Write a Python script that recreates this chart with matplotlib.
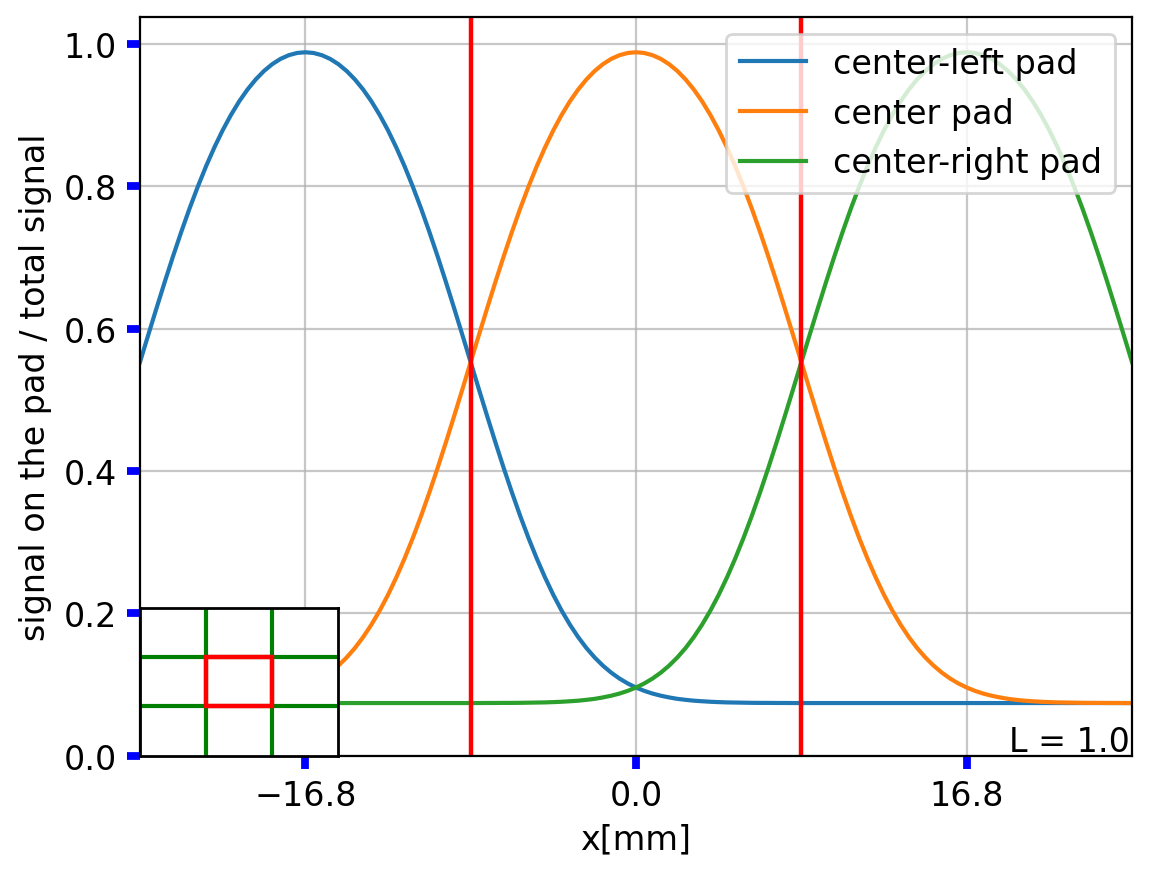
import matplotlib.pyplot as plt
from matplotlib.patches import Rectangle

plt.rcParams['font.size'] = 12

# positions along the strip [mm]
x_mm = [-25.2, -24.78, -24.36, -23.94, -23.52, -23.1, -22.68, -22.26, -21.84, -21.42,
        -21.0, -20.58, -20.16, -19.74, -19.32, -18.9, -18.48, -18.06, -17.64, -17.22,
        -16.8, -16.38, -15.96, -15.54, -15.12, -14.7, -14.28, -13.86, -13.44, -13.02,
        -12.6, -12.18, -11.76, -11.34, -10.92, -10.5, -10.08, -9.66, -9.24, -8.82,
        -8.4, -7.98, -7.56, -7.14, -6.72, -6.3, -5.88, -5.46, -5.04, -4.62,
        -4.2, -3.78, -3.36, -2.94, -2.52, -2.1, -1.68, -1.26, -0.84, -0.42,
        0.0,
        0.42, 0.84, 1.26, 1.68, 2.1, 2.52, 2.94, 3.36, 3.78, 4.2,
        4.62, 5.04, 5.46, 5.88, 6.3, 6.72, 7.14, 7.56, 7.98, 8.4,
        8.82, 9.24, 9.66, 10.08, 10.5, 10.92, 11.34, 11.76, 12.18, 12.6,
        13.02, 13.44, 13.86, 14.28, 14.7, 15.12, 15.54, 15.96, 16.38, 16.8,
        17.22, 17.64, 18.06, 18.48, 18.9, 19.32, 19.74, 20.16, 20.58, 21.0,
        21.42, 21.84, 22.26, 22.68, 23.1, 23.52, 23.94, 24.36, 24.78, 25.2]

center_left = [0.5528, 0.5909, 0.6286, 0.6656, 0.7015, 0.7359, 0.7687, 0.7994, 0.8281, 0.8544,
               0.8784, 0.8999, 0.9190, 0.9356, 0.9498, 0.9617, 0.9713, 0.9787, 0.9839, 0.9870,
               0.9880,
               0.9870, 0.9839, 0.9787, 0.9713, 0.9617, 0.9498, 0.9356, 0.9190, 0.8999, 0.8784,
               0.8544, 0.8281, 0.7994, 0.7687, 0.7359, 0.7015, 0.6656, 0.6286, 0.5909, 0.5528,
               0.5146, 0.4769, 0.4399, 0.4040, 0.3695, 0.3366, 0.3057, 0.2769, 0.2503, 0.2259,
               0.2039, 0.1842, 0.1667, 0.1513, 0.1380, 0.1265, 0.1167, 0.1084, 0.1015, 0.0958,
               0.0911, 0.0873, 0.0843, 0.0819, 0.0799, 0.0785, 0.0773, 0.0765, 0.0758, 0.0753,
               0.0749, 0.0747, 0.0745, 0.0743, 0.0742, 0.0742, 0.0741, 0.0741, 0.0740, 0.0740,
               0.0740, 0.0740, 0.0740, 0.0740, 0.0740, 0.0740, 0.0740, 0.0740, 0.0740, 0.0740,
               0.0740, 0.0740, 0.0740, 0.0740, 0.0740, 0.0740, 0.0740, 0.0740, 0.0740, 0.0740,
               0.0740, 0.0740, 0.0740, 0.0740, 0.0740, 0.0740, 0.0740, 0.0740, 0.0740, 0.0740,
               0.0740, 0.0740, 0.0740, 0.0740, 0.0740, 0.0740, 0.0740, 0.0740, 0.0740, 0.0740]

center = [0.0740, 0.0740, 0.0741, 0.0741, 0.0742, 0.0742, 0.0743, 0.0745, 0.0747, 0.0749,
          0.0753, 0.0758, 0.0765, 0.0773, 0.0785, 0.0799, 0.0819, 0.0843, 0.0873, 0.0911,
          0.0958, 0.1015, 0.1084, 0.1167, 0.1265, 0.1380, 0.1513, 0.1667, 0.1842, 0.2039,
          0.2259, 0.2503, 0.2769, 0.3057, 0.3366, 0.3695, 0.4040, 0.4399, 0.4769, 0.5146,
          0.5528, 0.5909, 0.6286, 0.6656, 0.7015, 0.7359, 0.7687, 0.7994, 0.8281, 0.8544,
          0.8784, 0.8999, 0.9190, 0.9356, 0.9498, 0.9617, 0.9713, 0.9787, 0.9839, 0.9870,
          0.9880,
          0.9870, 0.9839, 0.9787, 0.9713, 0.9617, 0.9498, 0.9356, 0.9190, 0.8999, 0.8784,
          0.8544, 0.8281, 0.7994, 0.7687, 0.7359, 0.7015, 0.6656, 0.6286, 0.5909, 0.5528,
          0.5146, 0.4769, 0.4399, 0.4040, 0.3695, 0.3366, 0.3057, 0.2769, 0.2503, 0.2259,
          0.2039, 0.1842, 0.1667, 0.1513, 0.1380, 0.1265, 0.1167, 0.1084, 0.1015, 0.0958,
          0.0911, 0.0873, 0.0843, 0.0819, 0.0799, 0.0785, 0.0773, 0.0765, 0.0758, 0.0753,
          0.0749, 0.0747, 0.0745, 0.0743, 0.0742, 0.0742, 0.0741, 0.0741, 0.0740, 0.0740]

center_right = [0.0740, 0.0740, 0.0740, 0.0740, 0.0740, 0.0740, 0.0740, 0.0740, 0.0740, 0.0740,
                0.0740, 0.0740, 0.0740, 0.0740, 0.0740, 0.0740, 0.0740, 0.0740, 0.0740, 0.0740,
                0.0740, 0.0740, 0.0740, 0.0740, 0.0740, 0.0740, 0.0740, 0.0740, 0.0740, 0.0740,
                0.0740, 0.0740, 0.0740, 0.0740, 0.0740, 0.0740, 0.0740, 0.0740, 0.0740, 0.0740,
                0.0740, 0.0740, 0.0741, 0.0741, 0.0742, 0.0742, 0.0743, 0.0745, 0.0747, 0.0749,
                0.0753, 0.0758, 0.0765, 0.0773, 0.0785, 0.0799, 0.0819, 0.0843, 0.0873, 0.0911,
                0.0958, 0.1015, 0.1084, 0.1167, 0.1265, 0.1380, 0.1513, 0.1667, 0.1842, 0.2039,
                0.2259, 0.2503, 0.2769, 0.3057, 0.3366, 0.3695, 0.4040, 0.4399, 0.4769, 0.5146,
                0.5528, 0.5909, 0.6286, 0.6656, 0.7015, 0.7359, 0.7687, 0.7994, 0.8281, 0.8544,
                0.8784, 0.8999, 0.9190, 0.9356, 0.9498, 0.9617, 0.9713, 0.9787, 0.9839, 0.9870,
                0.9880,
                0.9870, 0.9839, 0.9787, 0.9713, 0.9617, 0.9498, 0.9356, 0.9190, 0.8999, 0.8784,
                0.8544, 0.8281, 0.7994, 0.7687, 0.7359, 0.7015, 0.6656, 0.6286, 0.5909, 0.5528]

labels = ['center-left pad', 'center pad', 'center-right pad']
pad_edges = [-8.4, 8.4]
xticks = [-16.8, 0.0, 16.8]
yticks = [0.0, 0.2, 0.4, 0.6, 0.8, 1.0]

# pad map for the inset (3x3 pads, centre pad highlighted)
grid_lines = [1, 2]
centre_pad = (1, 1)

fig = plt.figure(figsize=(1153 / 200, 879 / 200), dpi=200)
ax = fig.add_axes([0.1214, 0.1391, 0.8604, 0.8404])

ax.plot(x_mm, center_left, label=labels[0])
ax.plot(x_mm, center, label=labels[1])
ax.plot(x_mm, center_right, label=labels[2])
for e in pad_edges:
    ax.axvline(e, color='red', lw=1.6)

ax.set_xlim(-25.2, 25.2)
ax.set_ylim(0, 1.0375)
ax.set_xticks(xticks)
ax.set_yticks(yticks)
ax.grid(True, color='#b0b0b0', alpha=0.7, lw=0.8)
ax.tick_params(direction='out', color='blue', length=4.8, width=2.8)
ax.set_xlabel('x[mm]')
ax.set_ylabel('signal on the pad / total signal')
ax.legend(loc='upper right')
ax.text(0.998, 0.006, 'L = 1.0', transform=ax.transAxes, ha='right', va='baseline')

ins = ax.inset_axes([0, 0, 0.2, 0.2])
ins.set_xlim(0, 3)
ins.set_ylim(0, 3)
ins.set_xticks([])
ins.set_yticks([])
for g in grid_lines:
    ins.axvline(g, color='green', lw=1.5)
    ins.axhline(g, color='green', lw=1.5)
ins.add_patch(Rectangle(centre_pad, 1, 1, fill=False, edgecolor='red', lw=1.6, zorder=3))
for s in ins.spines.values():
    s.set_linewidth(1.0)

fig.savefig('out.png', dpi=200)
